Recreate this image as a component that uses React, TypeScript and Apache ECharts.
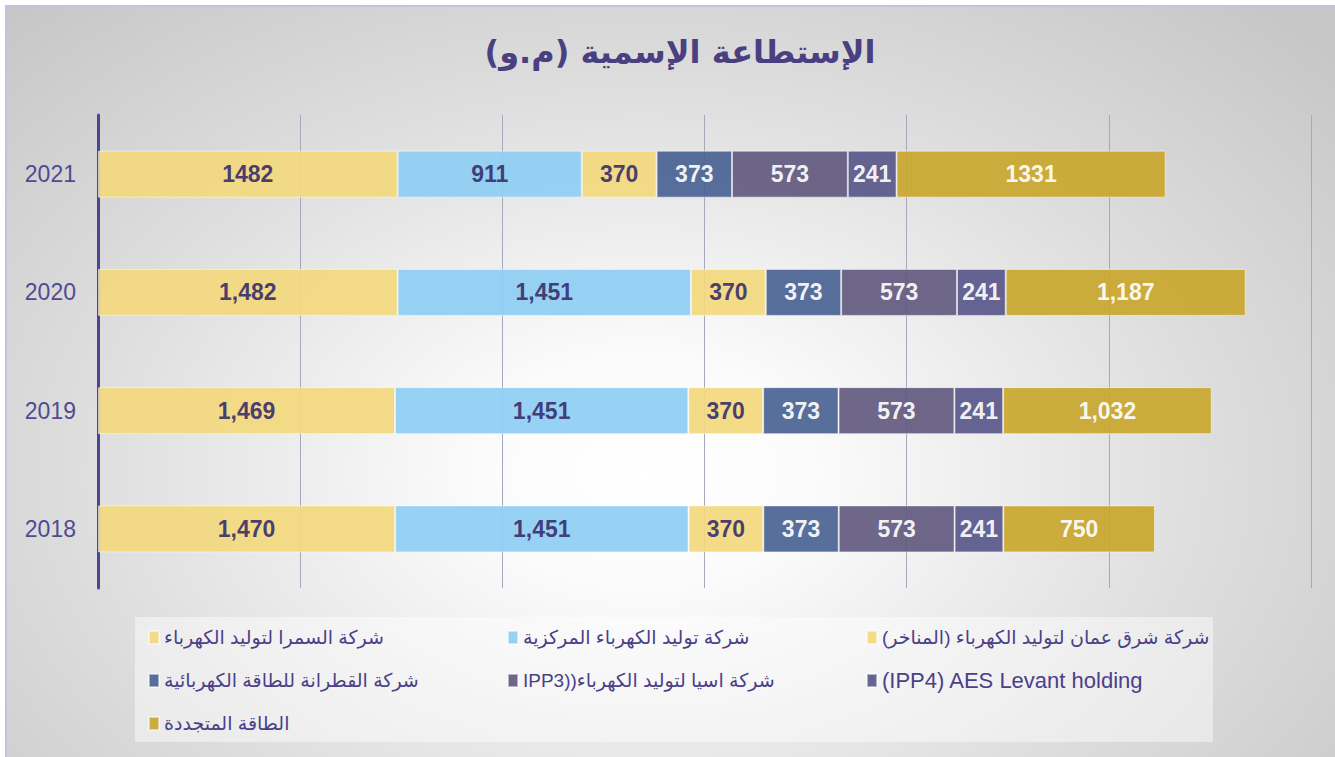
import React, { useEffect, useRef } from "react";
import * as echarts from "echarts";

const years = ["2018", "2019", "2020", "2021"];
const labelUsesComma = [true, true, true, false];

const samra = [1470, 1469, 1482, 1482];
const central = [1451, 1451, 1451, 911];
const manakher = [370, 370, 370, 370];
const qatrana = [373, 373, 373, 373];
const ipp3 = [573, 573, 573, 573];
const ipp4 = [241, 241, 241, 241];
const renewables = [750, 1032, 1187, 1331];

const seriesNames = [
  "شركة السمرا لتوليد الكهرباء",
  "شركة توليد الكهرباء المركزية",
  "شركة شرق عمان لتوليد الكهرباء (المناخر)",
  "شركة القطرانة للطاقة الكهربائية",
  "IPP3))شركة اسيا لتوليد الكهرباء",
  "(IPP4) AES Levant holding",
  "الطاقة المتجددة",
];
const latinLegendName = "(IPP4) AES Levant holding";
const seriesValues = [samra, central, manakher, qatrana, ipp3, ipp4, renewables];
const seriesColors = ["#F2D87E", "#8ECDF2", "#F2D87E", "#4A6394", "#625A80", "#58578A", "#C8A62E"];
const labelColors = ["#3A2F6B", "#3A2F6B", "#3A2F6B", "#FFFFFF", "#FFFFFF", "#FFFFFF", "#FFFFFF"];

const titleText = "الإستطاعة الإسمية (م.و)";

export default function App() {
  const ref = useRef<HTMLDivElement>(null);

  useEffect(() => {
    if (!ref.current) return;
    const chart = echarts.init(ref.current, null, { renderer: "svg" });
    chart.setOption({
      animation: false,
      backgroundColor: "transparent",
      title: {
        text: titleText,
        left: 675,
        top: 31,
        textAlign: "center",
        textStyle: {
          fontSize: 32,
          fontWeight: "bold",
          color: "#4A3F80",
          fontFamily: "'DejaVu Sans', Arial, sans-serif",
        },
      },
      graphic: [
        {
          type: "rect",
          z: -1,
          shape: { x: 135, y: 617, width: 1078, height: 125 },
          style: { fill: "rgba(255,255,255,0.45)" },
        },
      ],
      legend: {
        left: 143,
        top: 621,
        width: 1075,
        orient: "horizontal",
        icon: "rect",
        itemWidth: 10,
        itemHeight: 13,
        itemGap: 20,
        formatter: (name: string) => (name === latinLegendName ? `{lat|${name}}` : name),
        textStyle: {
          color: "#4A4088",
          fontSize: 19,
          lineHeight: 23,
          width: 323,
          fontFamily: "Arial, 'DejaVu Sans', sans-serif",
          rich: {
            lat: {
              fontSize: 22,
              lineHeight: 23,
              color: "#4A4088",
              fontFamily: "Arial, sans-serif",
            },
          },
        },
        data: seriesNames,
      },
      grid: { left: 98, right: 24, top: 115, bottom: 169, containLabel: false },
      xAxis: {
        type: "value",
        min: 0,
        max: 6000,
        interval: 1000,
        axisLabel: { show: false },
        axisLine: { show: false },
        axisTick: { show: false },
        splitLine: { show: true, lineStyle: { color: "#A9A8BA", width: 1 } },
      },
      yAxis: {
        type: "category",
        data: years,
        axisLine: { show: true, lineStyle: { color: "#4E4592", width: 3 } },
        axisTick: { show: false },
        axisLabel: {
          color: "#514A92",
          fontSize: 23,
          margin: 22,
          fontFamily: "Arial, sans-serif",
        },
      },
      series: seriesValues.map((vals, i) => ({
        name: seriesNames[i],
        type: "bar",
        stack: "total",
        barWidth: 47,
        data: vals,
        itemStyle: {
          color: seriesColors[i],
          opacity: 0.92,
          borderColor: "rgba(255,255,255,0.55)",
          borderWidth: 1,
        },
        label: {
          show: true,
          position: "inside",
          color: labelColors[i],
          fontSize: 23,
          fontWeight: "bold",
          fontFamily: "Arial, sans-serif",
          formatter: (p: any) =>
            labelUsesComma[p.dataIndex]
              ? Number(p.value).toLocaleString("en-US")
              : String(p.value),
        },
      })),
    });
    return () => chart.dispose();
  }, []);

  return (
    <div
      style={{
        position: "fixed",
        left: 0,
        top: 0,
        width: 1335,
        height: 757,
        background: "#ffffff",
        overflow: "hidden",
      }}
    >
      <div
        style={{
          position: "absolute",
          left: 5,
          top: 5,
          width: 1330,
          height: 752,
          borderTop: "2px solid #C8C0E4",
          borderLeft: "2px solid #C8C0E4",
          boxSizing: "border-box",
          background:
            "radial-gradient(ellipse 70% 85% at 48% 62%, #ffffff 0%, #fbfbfb 18%, #dedede 60%, #c6c6c6 100%)",
        }}
      />
      <div
        ref={ref}
        style={{ position: "absolute", left: 0, top: 0, width: 1335, height: 757 }}
      />
    </div>
  );
}
